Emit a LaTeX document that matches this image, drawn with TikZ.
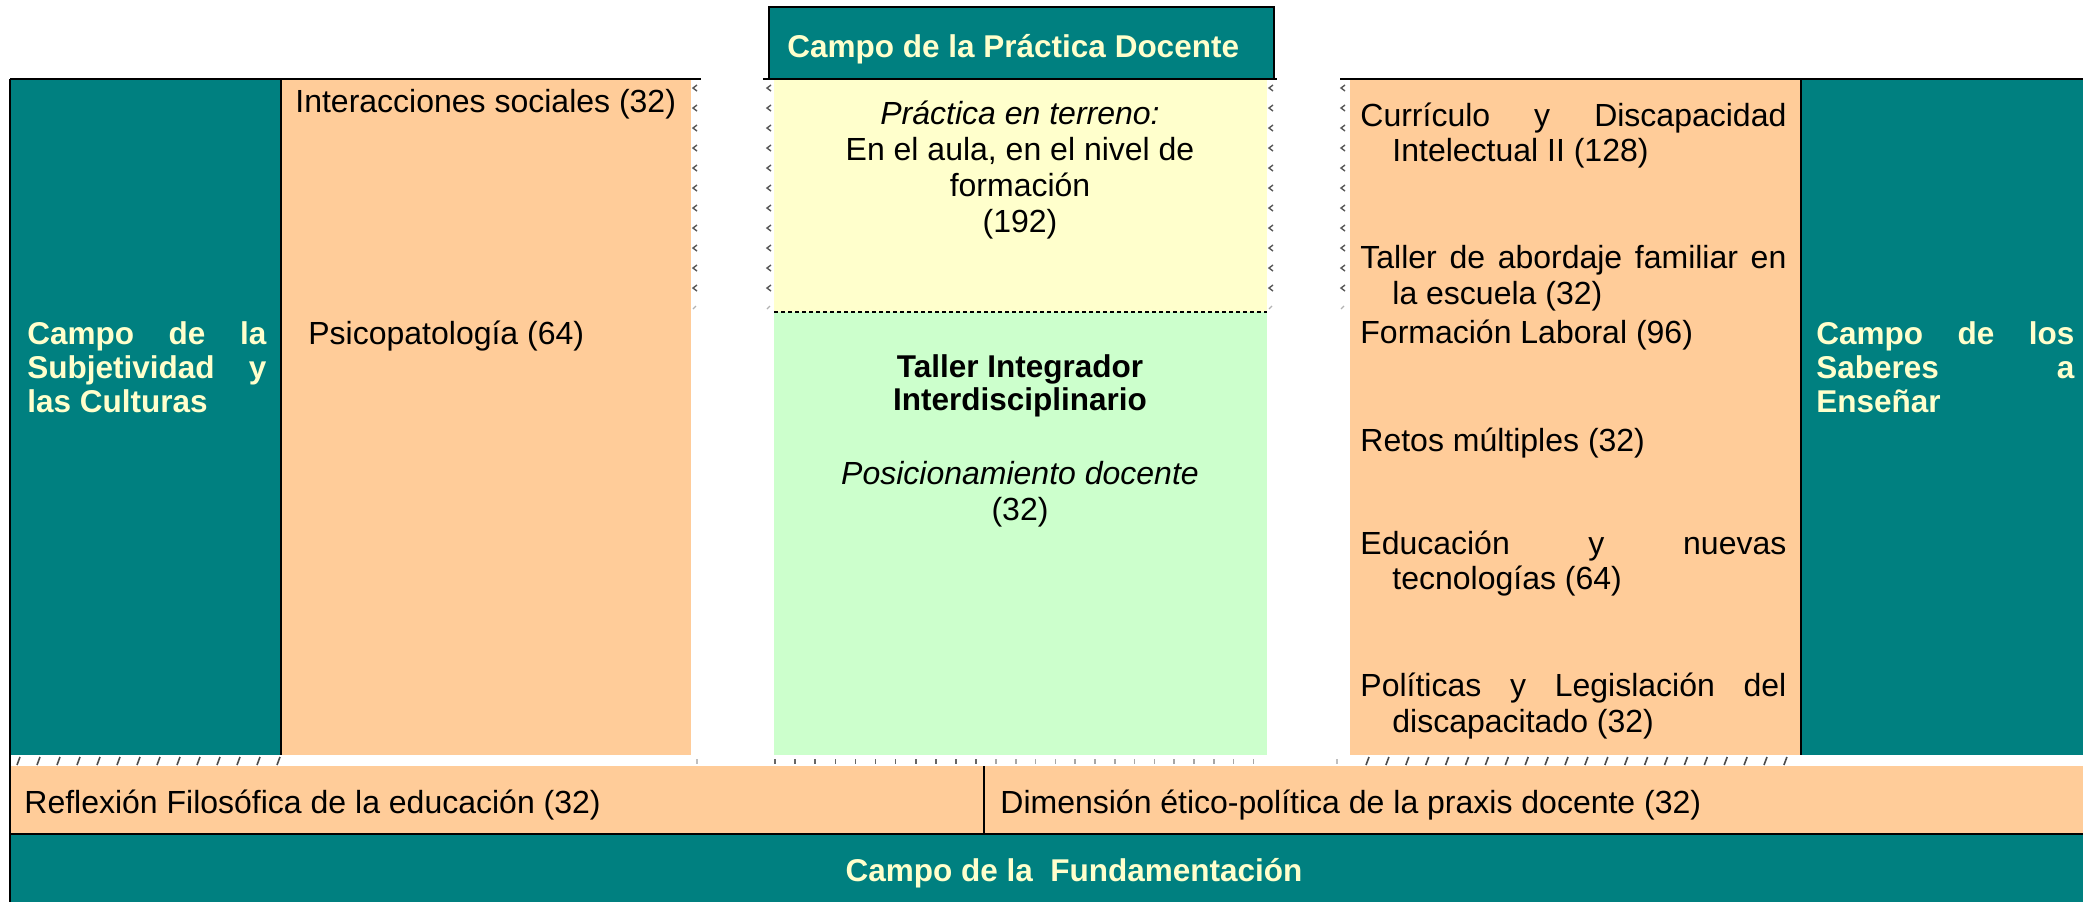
\documentclass[tikz,border=0pt]{standalone}
\usepackage{fontspec}
\setmainfont{Liberation Sans}
\definecolor{tealc}{HTML}{008080}
\definecolor{orng}{HTML}{FFCC99}
\definecolor{yel}{HTML}{FFFFCC}
\definecolor{grn}{HTML}{CCFFCC}
\definecolor{cream}{HTML}{FFFFCC}
\newcommand\fs{\fontsize{16pt}{18pt}\selectfont}
\newcommand\fb{\fontsize{15.75pt}{18pt}\selectfont\bfseries}
\begin{document}
\begin{tikzpicture}[x=0.5pt,y=-0.5pt,
  txt/.style={inner sep=0pt, anchor=base west, font=\fs},
  ctxt/.style={inner sep=0pt, anchor=base, font=\fs},
  head/.style={inner sep=0pt, anchor=base west, font=\fb, text=cream},
  rule/.style={line width=1pt},
  thinrule/.style={line width=0.8pt},
  chev/.style={black!65, line width=0.7pt},
  faintchev/.style={black!30, line width=0.6pt},
  slash/.style={black!70, line width=0.8pt},
  tick/.style={line width=0.8pt}]
\useasboundingbox (0,0) rectangle (2083,902);
% fills
\fill[tealc] (10,79) rectangle (281,755);
\fill[orng] (281,79) rectangle (691,755);
\fill[yel] (774,79) rectangle (1267,312);
\fill[grn] (774,312) rectangle (1267,755);
\fill[orng] (1350,79) rectangle (1801,755);
\fill[tealc] (1801,79) rectangle (2083,755);
\fill[orng] (10,766) rectangle (2083,834);
\fill[tealc] (10,834) rectangle (2083,902);
% top box
\draw[rule, fill=tealc] (769,7) rectangle (1274,79);
% rules
\draw[rule] (10,79) -- (701,79);
\draw[rule] (763,79) -- (1277,79);
\draw[rule] (1340,79) -- (2083,79);
\draw[rule] (10,79) -- (10,902);
\draw[thinrule] (281,79) -- (281,755);
\draw[thinrule] (1801,79) -- (1801,755);
\draw[line width=0.7pt] (984,766) -- (984,834);
\draw[line width=1.2pt] (10,834) -- (2083,834);
\draw[line width=0.8pt, dash pattern=on 2pt off 1.5pt] (774,312) -- (1267,312);
% chevron marks
\foreach \x in {693,767,1269,1341}{
  \foreach \k in {0,...,10}{
    \draw[chev] ({\x+4},{88+20*\k-3}) -- ({\x},{88+20*\k}) -- ({\x+4},{88+20*\k+3});
  }
  \draw[faintchev] ({\x+3},{306}) -- ({\x},{309});
}
% strip marks
\foreach \k in {0,...,13}{\draw[slash] ({17+20*\k},765) -- ({20+20*\k},757);}
\foreach \k in {0,...,21}{\draw[slash] ({1366+19.9*\k},765) -- ({1369+19.9*\k},757);}
\foreach \k in {0,...,10}{\draw[tick, black!60] ({775+20.1*\k},759) -- ++(0,5);}
\foreach \k in {0,...,13}{\draw[tick, black!35] ({996+19.8*\k},759) -- ++(0,5);}
\draw[tick, black!25] (697,759) -- ++(0,5);
\draw[tick, black!25] (1337,759) -- ++(0,5);
% texts
\node[head] (tpd) at (787,57) {Campo de la Práctica Docente};
\node[head] (ls1) at (27,344) {\makebox[119.5pt][s]{Campo de la}};
\node[head] (ls2) at (27,378) {\makebox[119.5pt][s]{Subjetividad y}};
\node[head] (ls3) at (27,412) {las Culturas};
\node[head] (rs1) at (1816,344) {\makebox[129pt][s]{Campo de los}};
\node[head] (rs2) at (1816,378) {\makebox[129pt][s]{Saberes a}};
\node[head] (rs3) at (1816,412) {Enseñar};
\node[txt] (is) at (295,112) {Interacciones sociales (32)};
\node[txt] (ps) at (308,344) {Psicopatología (64)};
\node[ctxt, font=\fs\itshape] (pt1) at (1020,124) {Práctica en terreno:};
\node[ctxt] (pt2) at (1020,160) {En el aula, en el nivel de};
\node[ctxt] (pt3) at (1020,196) {formación};
\node[ctxt] (pt4) at (1020,232) {(192)};
\node[ctxt, font=\fb] (ti1) at (1020,377) {Taller Integrador};
\node[ctxt, font=\fb] (ti2) at (1020,410) {Interdisciplinario};
\node[ctxt, font=\fs\itshape] (pd1) at (1020,484) {Posicionamiento docente};
\node[ctxt] (pd2) at (1020,520) {(32)};
\node[txt] (r1a) at (1360,126) {\makebox[213pt][s]{Currículo y Discapacidad}};
\node[txt] (r1b) at (1392,161) {Intelectual II (128)};
\node[txt] (r2a) at (1360,268) {\makebox[213pt][s]{Taller de abordaje familiar en}};
\node[txt] (r2b) at (1392,304) {la escuela (32)};
\node[txt] (r3) at (1360,343) {Formación Laboral (96)};
\node[txt] (r4) at (1360,451) {Retos múltiples (32)};
\node[txt] (r5a) at (1360,554) {\makebox[213pt][s]{Educación y nuevas}};
\node[txt] (r5b) at (1392,589) {tecnologías (64)};
\node[txt] (r6a) at (1360,696) {\makebox[213pt][s]{Políticas y Legislación del}};
\node[txt] (r6b) at (1392,732) {discapacitado (32)};
\node[txt] (rf) at (24,813) {Reflexión Filosófica de la educación (32)};
\node[txt] (de) at (1000,813) {Dimensión ético-política de la praxis docente (32)};
\node[ctxt, font=\fb, text=cream] (cf) at (1074,881) {Campo de la\ \ Fundamentación};
\end{tikzpicture}
\end{document}
